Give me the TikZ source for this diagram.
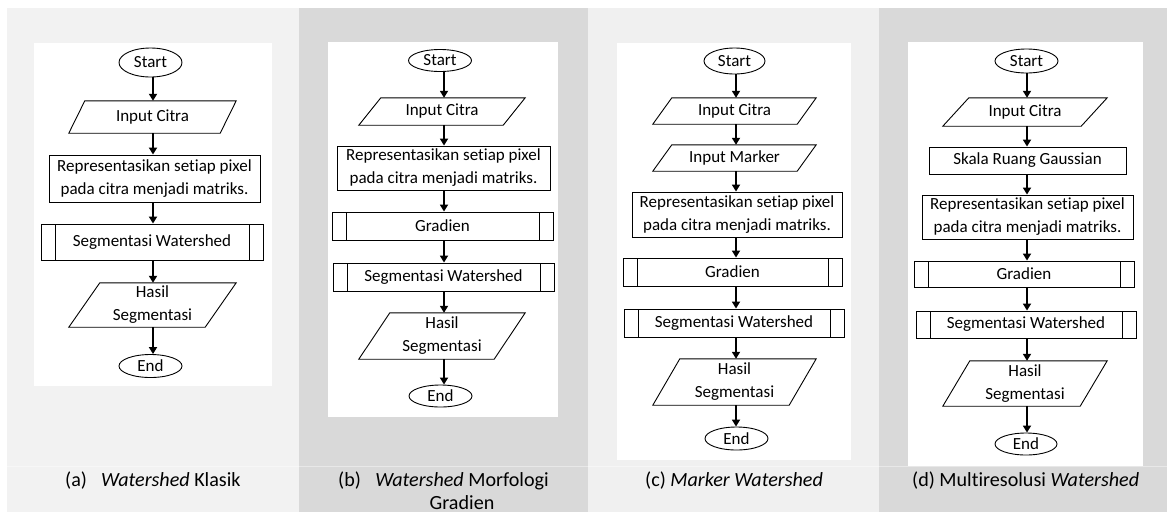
\documentclass[tikz,border=0pt]{standalone}
\usepackage{fontspec}
\setmainfont{Carlito}[Ligatures=NoCommon]
\usetikzlibrary{shapes.geometric,arrows.meta}
\definecolor{colA}{HTML}{F2F2F2}
\definecolor{colB}{HTML}{D9D9D9}
\definecolor{colC}{HTML}{F0F0F0}
\definecolor{colD}{HTML}{D9D9D9}
\newcommand\ioline[2]{%
  \draw[outl] ([xshift=#2/2]#1.north west) -- ([xshift=#2/2]#1.north east)
    -- ([xshift=-#2/2]#1.south east) -- ([xshift=-#2/2]#1.south west) -- cycle;}
\begin{document}
\begin{tikzpicture}[x=1pt,y=-1pt,
  every node/.style={font=\fontsize{17}{23}\selectfont, text=black, inner sep=0pt},
  outl/.style={draw=black, line width=0.9pt},
  term/.style={ellipse, outl},
  proc/.style={rectangle, outl, align=center},
  subr/.style={rectangle, outl, align=center,
    path picture={\draw[line width=0.9pt]
      ([xshift=14pt]path picture bounding box.north west) -- ([xshift=14pt]path picture bounding box.south west)
      ([xshift=-14pt]path picture bounding box.north east) -- ([xshift=-14pt]path picture bounding box.south east);}},
  iobody/.style={rectangle, align=center},
  flow/.style={line width=1.7pt, -{Triangle[width=8pt,length=7pt]}},
  captxt/.style={font=\fontsize{20.1}{23}\selectfont, anchor=base west},
  panel/.style={fill=white, draw=none}]
\useasboundingbox (0,0) rectangle (1167,512);
% column backgrounds
\fill[colA] (7,8) rectangle (299,512);
\fill[colB] (299,8) rectangle (588,512);
\fill[colC] (588,8) rectangle (879,512);
\fill[colD] (879,8) rectangle (1167,512);
\draw[white, opacity=0.4, line width=1pt] (7,466) -- (1167,466);
% white panels
\fill[panel] (34,43) rectangle (272,386);
\fill[panel] (328,42) rectangle (558,417);
\fill[panel] (617,43) rectangle (851,460);
\fill[panel] (908,42) rectangle (1143,466);

% ---------- (a) ----------
\coordinate (axA) at (153,0);
\node[term, minimum width=63pt, minimum height=29pt] (sA) at (150.5,62.5) {Start};
\node[iobody, minimum width=151pt, minimum height=32pt] (iA) at (152.5,117) {Input Citra};
\ioline{iA}{16}
\node[proc, minimum width=211pt, minimum height=47pt] (rA) at (154.5,178.5) {Representasikan setiap pixel\\pada citra menjadi matriks.};
\node[subr, minimum width=222pt, minimum height=36pt] (wA) at (152,242) {Segmentasi Watershed};
\node[iobody, minimum width=136pt, minimum height=44pt] (hA) at (152.5,305) {Hasil\\Segmentasi};
\ioline{hA}{31}
\node[term, minimum width=63pt, minimum height=23pt] (eA) at (150.5,366) {End};
\draw[flow] (sA.south -| axA) -- (iA.north -| axA);
\draw[flow] (iA.south -| axA) -- (rA.north -| axA);
\draw[flow] (rA.south -| axA) -- (wA.north -| axA);
\draw[flow] (wA.south -| axA) -- (hA.north -| axA);
\draw[flow] (hA.south -| axA) -- (eA.north -| axA);

% ---------- (b) ----------
\coordinate (axB) at (444,0);
\node[term, minimum width=63pt, minimum height=22pt] (sB) at (440,60.5) {Start};
\node[iobody, minimum width=144pt, minimum height=27pt] (iB) at (442,111.5) {Input Citra};
\ioline{iB}{22}
\node[proc, minimum width=213pt, minimum height=44pt] (rB) at (443.5,168) {Representasikan setiap pixel\\pada citra menjadi matriks.};
\node[subr, minimum width=221pt, minimum height=28pt] (gB) at (442.5,226) {Gradien};
\node[subr, minimum width=221pt, minimum height=28pt] (wB) at (443.5,277) {Segmentasi Watershed};
\node[iobody, minimum width=135pt, minimum height=46pt] (hB) at (442,336) {Hasil\\Segmentasi};
\ioline{hB}{31}
\node[term, minimum width=63pt, minimum height=22pt] (eB) at (440.5,396) {End};
\draw[flow] (sB.south -| axB) -- (iB.north -| axB);
\draw[flow] (iB.south -| axB) -- (rB.north -| axB);
\draw[flow] (rB.south -| axB) -- (gB.north -| axB);
\draw[flow] (gB.south -| axB) -- (wB.north -| axB);
\draw[flow] (wB.south -| axB) -- (hB.north -| axB);
\draw[flow] (hB.south -| axB) -- (eB.north -| axB);

% ---------- (c) ----------
\coordinate (axC) at (736,0);
\node[term, minimum width=61pt, minimum height=26pt] (sC) at (734.5,61) {Start};
\node[iobody, minimum width=144pt, minimum height=26pt] (iC) at (734.5,111) {Input Citra};
\ioline{iC}{19}
\node[iobody, minimum width=144pt, minimum height=26pt] (mC) at (734.5,158) {Input Marker};
\ioline{mC}{19}
\node[proc, minimum width=210pt, minimum height=45pt] (rC) at (737,214.5) {Representasikan setiap pixel\\pada citra menjadi matriks.};
\node[subr, minimum width=219pt, minimum height=28pt] (gC) at (732.5,272) {Gradien};
\node[subr, minimum width=220pt, minimum height=28pt] (wC) at (734,323) {Segmentasi Watershed};
\node[iobody, minimum width=136pt, minimum height=46pt] (hC) at (734.5,382) {Hasil\\Segmentasi};
\ioline{hC}{27}
\node[term, minimum width=63pt, minimum height=23pt] (eC) at (736.5,438.5) {End};
\draw[flow] (sC.south -| axC) -- (iC.north -| axC);
\draw[flow] (iC.south -| axC) -- (mC.north -| axC);
\draw[flow] (mC.south -| axC) -- (rC.north -| axC);
\draw[flow] (rC.south -| axC) -- (gC.north -| axC);
\draw[flow] (gC.south -| axC) -- (wC.north -| axC);
\draw[flow] (wC.south -| axC) -- (hC.north -| axC);
\draw[flow] (hC.south -| axC) -- (eC.north -| axC);

% ---------- (d) ----------
\coordinate (axD) at (1027,0);
\node[term, minimum width=63pt, minimum height=24pt] (sD) at (1026.5,61) {Start};
\node[iobody, minimum width=138pt, minimum height=28pt] (iD) at (1025,112) {Input Citra};
\ioline{iD}{26}
\node[proc, minimum width=197pt, minimum height=27pt] (kD) at (1027.5,160.5) {Skala Ruang Gaussian};
\node[proc, minimum width=211pt, minimum height=44pt] (rD) at (1027.5,217) {Representasikan setiap pixel\\pada citra menjadi matriks.};
\node[subr, minimum width=220pt, minimum height=26pt] (gD) at (1024,274) {Gradien};
\node[subr, minimum width=220pt, minimum height=27pt] (wD) at (1026,324.5) {Segmentasi Watershed};
\node[iobody, minimum width=137pt, minimum height=45pt] (hD) at (1025,383.5) {Hasil\\Segmentasi};
\ioline{hD}{27}
\node[term, minimum width=62pt, minimum height=22pt] (eD) at (1026,444) {End};
\draw[flow] (sD.south -| axD) -- (iD.north -| axD);
\draw[flow] (iD.south -| axD) -- (kD.north -| axD);
\draw[flow] (kD.south -| axD) -- (rD.north -| axD);
\draw[flow] (rD.south -| axD) -- (gD.north -| axD);
\draw[flow] (gD.south -| axD) -- (wD.north -| axD);
\draw[flow] (wD.south -| axD) -- (hD.north -| axD);
\draw[flow] (hD.south -| axD) -- (eD.north -| axD);

% ---------- captions ----------
\node[captxt] (capAl) at (65,486) {(a)};
\node[captxt] (capAt) at (101,486) {\textit{Watershed} Klasik};
\node[captxt] (capBl) at (338,486) {(b)};
\node[captxt, anchor=base, align=center] (capBt) at (462,509) {\textit{Watershed} Morfologi\\Gradien};
\node[captxt] (capC) at (645,486) {(c) \textit{Marker Watershed}};
\node[captxt] (capD) at (912,486) {(d) Multiresolusi \textit{Watershed}};
\end{tikzpicture}
\end{document}
